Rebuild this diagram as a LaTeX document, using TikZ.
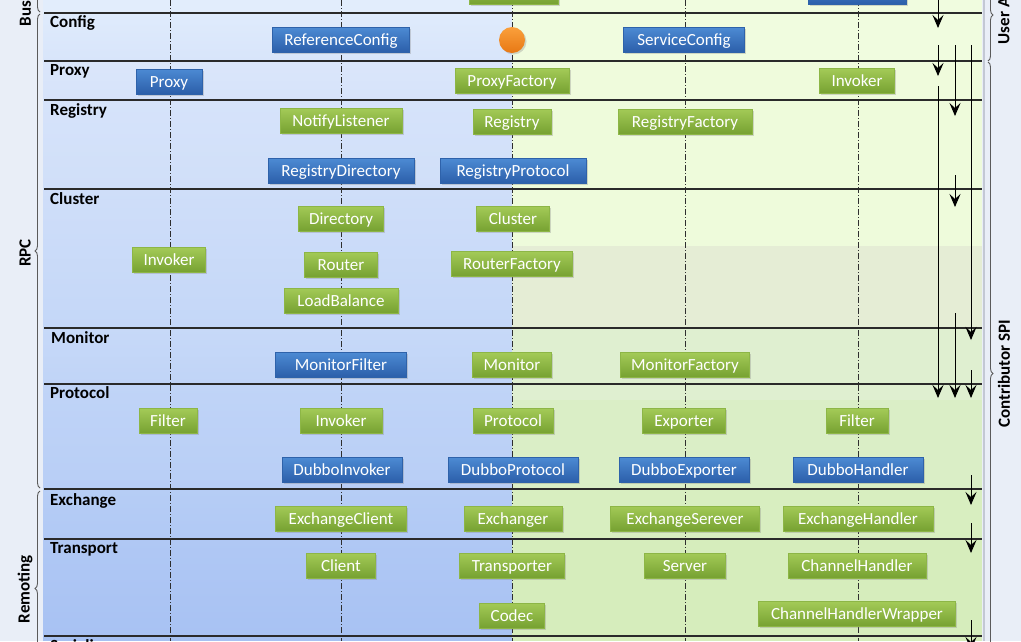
\documentclass[tikz,border=0pt]{standalone}
\usepackage{fontspec}
\setmainfont{Carlito}
\usetikzlibrary{arrows.meta, positioning, shadows, decorations.pathreplacing}

\definecolor{pageBg}{HTML}{E9EEF7}
\definecolor{grnTop}{HTML}{A3CA57}
\definecolor{grnBot}{HTML}{76A131}
\definecolor{grnLine}{HTML}{8DB646}
\definecolor{bluTop}{HTML}{4C8AD3}
\definecolor{bluBot}{HTML}{2B5EA9}
\definecolor{bluLine}{HTML}{2E62AA}
\definecolor{sepLine}{HTML}{2A2A2A}
\definecolor{gridLine}{HTML}{2E2E2E}
\definecolor{braceLine}{HTML}{5A5A5A}
\definecolor{edgeLine}{HTML}{C3C8D4}
\definecolor{hubTop}{HTML}{FAA03C}
\definecolor{hubBot}{HTML}{E87814}
% consumer bands
\definecolor{cSvc}{HTML}{E2EDFC}
\definecolor{cCfgA}{HTML}{DFEBFC}
\definecolor{cCfgB}{HTML}{D8E5FA}
\definecolor{cPxyA}{HTML}{DBE6FA}
\definecolor{cPxyB}{HTML}{D6E3FA}
\definecolor{cRegA}{HTML}{D6E3FA}
\definecolor{cRegB}{HTML}{D0DFF9}
\definecolor{cClsA}{HTML}{CFDEF9}
\definecolor{cClsB}{HTML}{C4D7F8}
\definecolor{cMonA}{HTML}{C7D9F8}
\definecolor{cMonB}{HTML}{C0D4F7}
\definecolor{cProA}{HTML}{C0D4F7}
\definecolor{cProB}{HTML}{B8CEF6}
\definecolor{cExcA}{HTML}{B6CDF5}
\definecolor{cExcB}{HTML}{B1C9F5}
\definecolor{cTrnA}{HTML}{B0C8F4}
\definecolor{cTrnB}{HTML}{A8C2F3}
\definecolor{cSer}{HTML}{A6C1F2}
% provider bands
\definecolor{pCfg}{HTML}{F0FCDF}
\definecolor{pPxy}{HTML}{EFFBDC}
\definecolor{pReg}{HTML}{EEFBDB}
\definecolor{pCls}{HTML}{E5EDD5}
\definecolor{pMon}{HTML}{DFEFD0}
\definecolor{pPro}{HTML}{DAEEC6}
\definecolor{pExc}{HTML}{D8EEC0}
\definecolor{pTrn}{HTML}{D6EDBC}

\begin{document}
\begin{tikzpicture}[
    x=1pt, y=-1pt,
    every node/.style={font=\fontsize{17}{20}\selectfont},
    gbox/.style={rectangle, draw=grnLine, top color=grnTop, bottom color=grnBot, text=white, minimum height=25pt, inner sep=0pt,
                 text height=14pt, text depth=3pt, drop shadow={shadow xshift=1.5pt, shadow yshift=-1.5pt, opacity=0.3}},
    bbox/.style={rectangle, draw=bluLine, top color=bluTop, bottom color=bluBot, text=white, minimum height=25pt, inner sep=0pt,
                 text height=14pt, text depth=3pt, drop shadow={shadow xshift=1.5pt, shadow yshift=-1.5pt, opacity=0.3}},
    layer/.style={anchor=base west, inner sep=0pt, font=\fontsize{17}{20}\selectfont\bfseries},
    side/.style={rotate=90, inner sep=0pt, font=\fontsize{17}{20}\selectfont\bfseries},
    grid/.style={draw=gridLine, line width=0.8pt, dash pattern=on 6pt off 2pt on 1pt off 2pt},
    sep/.style={draw=sepLine, line width=1.3pt},
    flow/.style={-{Stealth[length=13pt, width=11pt, inset=5pt]}, line width=0.9pt},
    curly/.style={draw=braceLine, line width=0.9pt, decorate, decoration={brace, amplitude=5pt}}
]
\useasboundingbox (0,0) rectangle (1021,641);
\clip (0,0) rectangle (1021,641);
\fill[pageBg] (0,0) rectangle (1021,641);

% Consumer side
\fill[cSvc] (43,-40) rectangle (512,13);
\shade[top color=cCfgA, bottom color=cCfgB] (43,13) rectangle (512,61);
\shade[top color=cPxyA, bottom color=cPxyB] (43,61) rectangle (512,100);
\shade[top color=cRegA, bottom color=cRegB] (43,100) rectangle (512,189);
\shade[top color=cClsA, bottom color=cClsB] (43,189) rectangle (512,328);
\shade[top color=cMonA, bottom color=cMonB] (43,328) rectangle (512,384);
\shade[top color=cProA, bottom color=cProB] (43,384) rectangle (512,489);
\shade[top color=cExcA, bottom color=cExcB] (43,489) rectangle (512,539);
\shade[top color=cTrnA, bottom color=cTrnB] (43,539) rectangle (512,636);
\fill[cSer] (43,636) rectangle (512,641);

% Provider side
\fill[pCfg] (512,-40) rectangle (982,61);
\fill[pPxy] (512,61) rectangle (982,100);
\fill[pReg] (512,100) rectangle (982,246);
\fill[pCls] (512,246) rectangle (982,328);
\fill[pMon] (512,328) rectangle (982,400);
\fill[pPro] (512,400) rectangle (982,489);
\fill[pExc] (512,489) rectangle (982,539);
\fill[pTrn] (512,539) rectangle (982,641);
\draw[edgeLine, line width=2pt] (984,0) -- (984,641);

% Columns
\draw[grid] (170,0) -- (170,641);
\draw[grid] (341,0) -- (341,641);
\draw[grid] (512,0) -- (512,641);
\draw[grid] (685,0) -- (685,641);
\draw[grid] (858,0) -- (858,641);

% Layer borders
\draw[sep] (44,13) -- (982,13);
\draw[sep] (44,61) -- (982,61);
\draw[sep] (44,100) -- (982,100);
\draw[sep] (44,189) -- (982,189);
\draw[sep] (44,328) -- (982,328);
\draw[sep] (44,384) -- (982,384);
\draw[sep] (44,489) -- (982,489);
\draw[sep] (44,539) -- (982,539);
\draw[sep] (44,636) -- (982,636);

% Layer names
\node[layer] (cfgLbl) at (50,27.5) {Config};
\node[layer] (pxyLbl) at (50,75) {Proxy};
\node[layer] (regLbl) at (50,115) {Registry};
\node[layer] (clsLbl) at (50,204) {Cluster};
\node[layer] (monLbl) at (51,343) {Monitor};
\node[layer] (proLbl) at (50,398.5) {Protocol};
\node[layer] (excLbl) at (50,505) {Exchange};
\node[layer] (trnLbl) at (50,553) {Transport};
\node[layer] (serLbl) at (50,651) {Serialize};

% Service (only the lower edges show)
\node[gbox, minimum width=89] (iface) at (513.5,-8) {};
\node[bbox, minimum width=98] (impl) at (857,-8) {};

% Config
\node[bbox, minimum width=137] (refCfg) at (341,40) {ReferenceConfig};
\node[circle, minimum size=26pt, inner sep=0pt, top color=hubTop, bottom color=hubBot,
      drop shadow={shadow xshift=1.5pt, shadow yshift=-1.5pt, opacity=0.3}] (hub) at (512,40) {};
\node[bbox, minimum width=121] (svcCfg) at (684,40) {ServiceConfig};

% Proxy
\node[bbox, minimum width=66] (proxy) at (169,81.5) {Proxy};
\node[gbox, minimum width=114] (pxyFac) at (512,81) {ProxyFactory};
\node[gbox, minimum width=75] (pxyInv) at (857,81) {Invoker};

% Registry
\node[gbox, minimum width=122] (notify) at (341,121) {NotifyListener};
\node[gbox, minimum width=78] (registry) at (512,121.5) {Registry};
\node[gbox, minimum width=134] (regFac) at (685,121.5) {RegistryFactory};
\node[bbox, minimum width=146] (regDir) at (341,171) {RegistryDirectory};
\node[bbox, minimum width=146] (regPro) at (513,171) {RegistryProtocol};

% Cluster
\node[gbox, minimum width=85] (dir) at (341,218.5) {Directory};
\node[gbox, minimum width=73] (cluster) at (513,219) {Cluster};
\node[gbox, minimum width=73] (clsInv) at (169,260) {Invoker};
\node[gbox, minimum width=73] (router) at (341,264.5) {Router};
\node[gbox, minimum width=121] (rtrFac) at (512,264) {RouterFactory};
\node[gbox, minimum width=114] (lb) at (341,300.5) {LoadBalance};

% Monitor
\node[bbox, minimum width=131] (monFlt) at (341,365) {MonitorFilter};
\node[gbox, minimum width=79] (monitor) at (512,365) {Monitor};
\node[gbox, minimum width=129] (monFac) at (685,365) {MonitorFactory};

% Protocol
\node[gbox, minimum width=58] (fltL) at (168,421) {Filter};
\node[gbox, minimum width=82] (proInv) at (341,421) {Invoker};
\node[gbox, minimum width=80] (protocol) at (513,421) {Protocol};
\node[gbox, minimum width=83] (exporter) at (684,421) {Exporter};
\node[gbox, minimum width=62] (fltR) at (857,421) {Filter};
\node[bbox, minimum width=120] (dubInv) at (342,470) {DubboInvoker};
\node[bbox, minimum width=130] (dubPro) at (513,470) {DubboProtocol};
\node[bbox, minimum width=130] (dubExp) at (684,470) {DubboExporter};
\node[bbox, minimum width=130] (dubHdl) at (858,470) {DubboHandler};

% Exchange
\node[gbox, minimum width=131] (excCli) at (341,518.5) {ExchangeClient};
\node[gbox, minimum width=98] (exchanger) at (513,518.5) {Exchanger};
\node[gbox, minimum width=149] (excSrv) at (685,518.5) {ExchangeSerever};
\node[gbox, minimum width=150] (excHdl) at (858,518.5) {ExchangeHandler};

% Transport
\node[gbox, minimum width=69] (client) at (341,565.5) {Client};
\node[gbox, minimum width=105] (transporter) at (512,565.5) {Transporter};
\node[gbox, minimum width=81] (server) at (685,565.5) {Server};
\node[gbox, minimum width=138] (chnHdl) at (857,565.5) {ChannelHandler};
\node[gbox, minimum width=65] (codec) at (512,615.5) {Codec};
\node[gbox, minimum width=197] (chnWrp) at (857,614) {ChannelHandlerWrapper};

% Extension arrows
\coordinate (a1) at (938,0);   \coordinate (a2) at (938,28);
\coordinate (a3) at (938,45);  \coordinate (a4) at (938,76);
\coordinate (a5) at (938,86);  \coordinate (a6) at (938,398);
\coordinate (b1) at (955,45);  \coordinate (b2) at (955,116);
\coordinate (b3) at (955,175); \coordinate (b4) at (955,207);
\coordinate (b5) at (955,313); \coordinate (b6) at (955,398);
\coordinate (c1) at (971,45);  \coordinate (c2) at (971,340);
\coordinate (c3) at (971,370); \coordinate (c4) at (971,398);
\coordinate (c5) at (971,475); \coordinate (c6) at (971,505);
\coordinate (c7) at (971,523); \coordinate (c8) at (971,553);
\coordinate (c9) at (971,620); \coordinate (c10) at (971,650);

\draw[flow] (a1) -- (a2);
\draw[flow] (a3) -- (a4);
\draw[flow] (a5) -- (a6);
\draw[flow] (b1) -- (b2);
\draw[flow] (b3) -- (b4);
\draw[flow] (b5) -- (b6);
\draw[flow] (c1) -- (c2);
\draw[flow] (c3) -- (c4);
\draw[flow] (c5) -- (c6);
\draw[flow] (c7) -- (c8);
\draw[flow] (c9) -- (c10);

% Braces
\draw[curly] (40,12) -- (40,-60);
\draw[curly] (40,488) -- (40,14);
\draw[curly] (40,686) -- (40,491);
\draw[curly] (988,-31) -- (988,61);
\draw[curly] (988,62) -- (988,685);

\node[side] (busLbl) at (25,-4) {Business};
\node[side] (rpcLbl) at (25,253) {RPC};
\node[side] (remLbl) at (25,589) {Remoting};
\node[side] (apiLbl) at (1004,14) {User API};
\node[side] (spiLbl) at (1004,374) {Contributor SPI};

\end{tikzpicture}
\end{document}
